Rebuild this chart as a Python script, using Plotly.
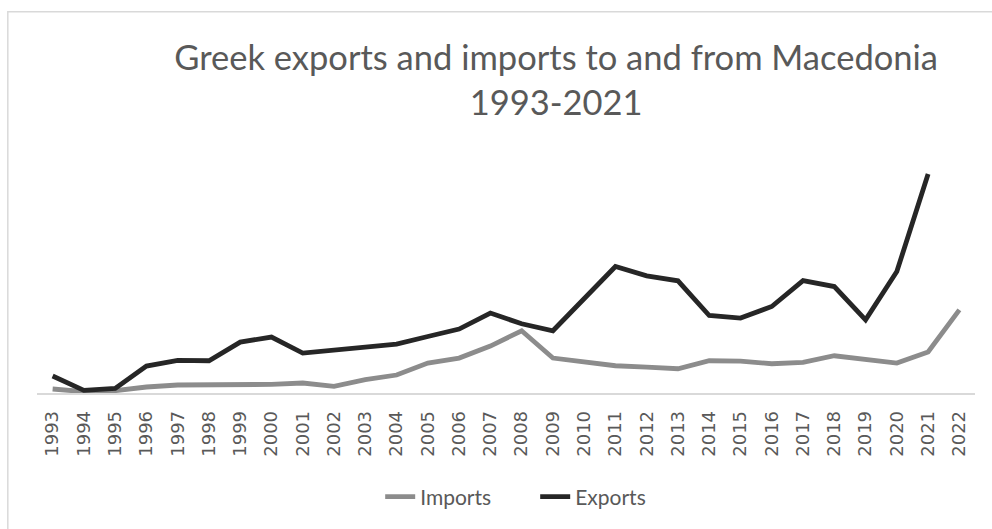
import plotly.graph_objects as go

years = [str(y) for y in range(1993, 2023)]
imports = [4, 1.3, 2.3, 6, 8, 8, 8, 8.6, 10, 6.6, 13.3, 18, 30, 35, 47, 62.3,
           35, 30.6, 27.3, 26, 24.3, 32.3, 32, 29.3, 30.6, 37.3, 34, 30, 41, 83.3]
exports = [17, 2.6, 4.6, 27, 32.6, 32.3, 51, 56, 40, 43.3, 46.6, 49, 56.6, 64, 80, 69.3,
           62.3, 95, 126.6, 117.3, 112.3, 77.6, 75, 86.6, 112.6, 106.6, 73.3, 121.6, 219.3, None]

W, H = 992, 529
L, R, T, B = 36.7, 17, 160, 135.7
pw = W - L - R
ph = H - T - B

fig = go.Figure()
fig.add_trace(go.Scatter(x=years, y=imports, name="Imports", mode="lines",
                         line=dict(color="#8c8c8c", width=4.8)))
fig.add_trace(go.Scatter(x=years, y=exports, name="Exports", mode="lines",
                         line=dict(color="#262626", width=4.8)))

def px_x(px):
    return (px - L) / pw

def px_y(py):
    return (H - B - py) / ph

fig.add_shape(type="rect", xref="paper", yref="paper",
              x0=px_x(7.5), x1=px_x(1000), y0=px_y(540), y1=px_y(11.5),
              line=dict(color="#d9d9d9", width=1.5), fillcolor="rgba(0,0,0,0)", layer="below")

fig.update_layout(
    width=W, height=H,
    margin=dict(l=L, r=R, t=T, b=B),
    paper_bgcolor="white", plot_bgcolor="white",
    title=dict(text="Greek exports and imports to and from Macedonia<br>1993-2021",
               x=px_x(556), xref="paper", xanchor="center",
               y=1 - 70 / H, yref="container", yanchor="top",
               font=dict(family="Lato", size=34.5, color="#595959")),
    showlegend=True,
    legend=dict(orientation="h", x=px_x(380), xanchor="left", xref="paper",
                y=1 - 497 / H, yref="container", yanchor="middle",
                font=dict(family="Lato", size=21, color="#595959"),
                itemwidth=30, entrywidth=110, traceorder="normal"),
    xaxis=dict(type="category", range=[-0.5, 29.5], showgrid=False, zeroline=False,
               showline=True, linecolor="#d9d9d9", linewidth=1.5,
               tickangle=-90, ticks="", ticklabelstandoff=9,
               tickfont=dict(family="DejaVu Sans", size=18, color="#595959")),
    yaxis=dict(range=[0, ph], showgrid=False, zeroline=False, showline=False,
               showticklabels=False, ticks=""),
)

fig.write_html("out.html")
